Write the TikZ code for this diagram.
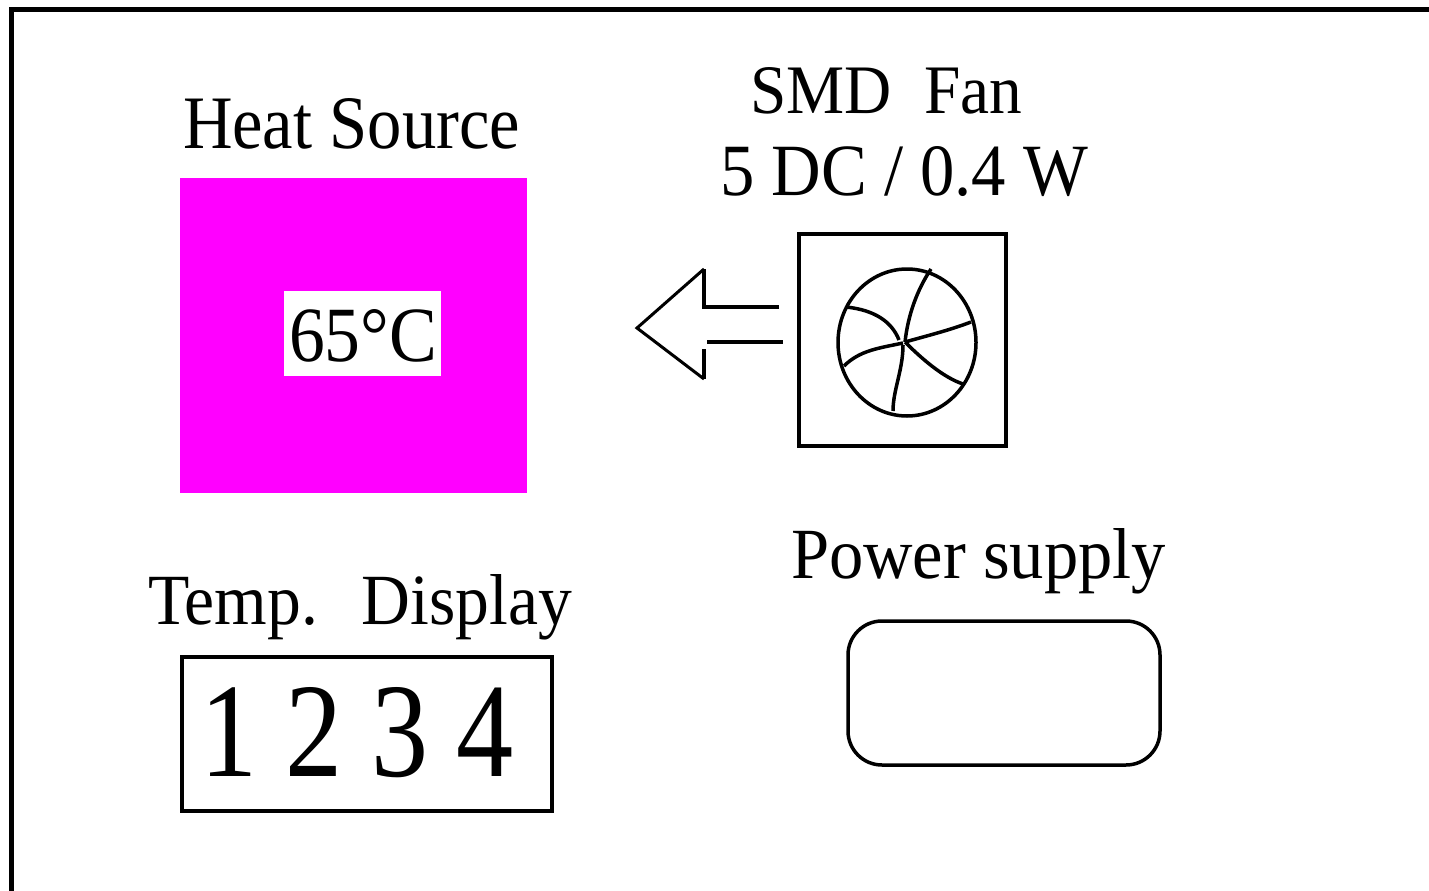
\documentclass[tikz,border=0pt]{standalone}
\usepackage{fontspec}
\setmainfont{Liberation Serif}
\definecolor{heat}{RGB}{255,0,255}
\newcommand{\lbl}[3]{\resizebox{#1pt}{#2pt}{#3}}
\tikzset{
  lab/.style={inner sep=0pt,outer sep=0pt,anchor=base west},
  box/.style={draw=black,line width=4pt,fill=white},
  thick line/.style={draw=black,line width=3.5pt,line join=miter},
  thin line/.style={draw=black,line width=3pt,line join=miter},
  blade/.style={draw=black,line width=3.5pt,line join=round}
}
\begin{document}
\begin{tikzpicture}[x=1pt,y=-1pt]
\useasboundingbox (0,0) rectangle (1429,891);
\fill[white] (0,0) rectangle (1429,891);
% outer frame
\coordinate (fs) at (11.5,891);
\coordinate (fc) at (11.5,9.5);
\coordinate (fe) at (1429,9.5);
\draw[black,line width=5pt,line join=miter] (fs) -- (fc) -- (fe);
% heat source
\node[lab] (heatlabel) at (183,148) {\lbl{337}{50}{Heat Source}};
\node[fill=heat,inner sep=0pt,minimum width=347pt,minimum height=315pt] (heat) at (353.5,335.5) {};
\node[fill=white,inner sep=0pt,minimum width=157pt,minimum height=85pt] (tempbox) at (362.5,333.5) {};
\node[lab] (temp) at (289,361) {\lbl{148}{52}{65°C}};
% fan
\node[lab] (fanlabel) at (750,113) {\lbl{272}{46}{SMD\ \ Fan}};
\node[lab] (fanspec) at (720,195) {\lbl{368}{49}{5 DC / 0.4 W}};
\node[box,minimum width=207pt,minimum height=212pt,inner sep=0pt] (fanbox) at (902.5,340) {};
\draw[thick line] (907,342.5) ellipse [x radius=69pt,y radius=73.5pt];
\draw[blade] (905,342) .. controls (908,315) and (917,290) .. (931,269);
\draw[blade] (905,342) .. controls (930,335) and (950,330) .. (971,322);
\draw[blade] (905,342) .. controls (925,362) and (945,378) .. (963,384);
\draw[blade] (903,345) .. controls (903,370) and (893,390) .. (893,411);
\draw[blade] (903,343) .. controls (880,348) and (860,350) .. (844,366);
\draw[blade] (899,340) .. controls (892,322) and (875,310) .. (846,307);
% arrow
\coordinate (a0) at (779,307);
\coordinate (a1) at (704,307);
\coordinate (a2) at (704,269);
\coordinate (a3) at (637,328);
\coordinate (a4) at (704,379);
\coordinate (a5) at (704,349);
\coordinate (a6) at (707,342);
\coordinate (a7) at (783,342);
\draw[thin line,line width=3.5pt] (a0) -- (a1) -- (a2);
\draw[thin line] (a2) -- (a3) -- (a4);
\draw[thin line,line width=3.5pt] (a4) -- (a5);
\draw[thin line,line width=3.5pt] (a6) -- (a7);
% display
\node[lab] (displabel) at (148,624) {\lbl{424}{50}{Temp.\hspace{0.65em}Display}};
\node[box,minimum width=370pt,minimum height=154pt,inner sep=0pt] (display) at (367,734) {};
\node[lab] (digits) at (200,776) {\lbl{314}{89}{1 2 3 4}};
% power
\node[lab] (powerlabel) at (791,578) {\lbl{375}{50}{Power supply}};
\node[draw=black,line width=3.5pt,rounded corners=34pt,minimum width=312pt,minimum height=144pt,inner sep=0pt] (power) at (1004,693) {};
\end{tikzpicture}
\end{document}
